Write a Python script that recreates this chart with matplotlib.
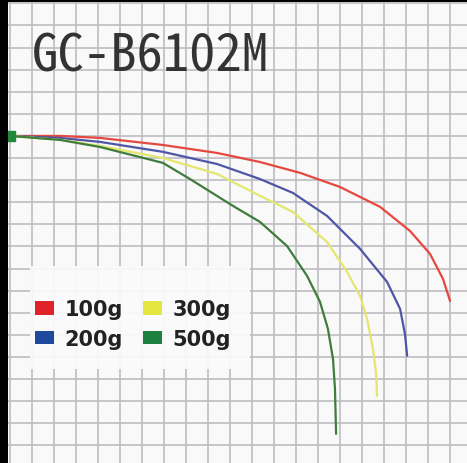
import matplotlib.pyplot as plt
from matplotlib.patches import Patch, Rectangle

# 竿のたわみ曲線 (グリッド1マス単位)
labels = ['100g', '200g', '300g', '500g']

x_100 = [0, 2.27, 4.09, 6.95, 9.41, 11.36, 13.18, 15.0, 16.82, 18.18, 19.09, 19.68, 20.0]
y_100 = [0, 0.0, -0.09, -0.41, -0.77, -1.18, -1.67, -2.31, -3.21, -4.30, -5.34, -6.47, -7.47]

x_200 = [0, 2.27, 4.09, 6.95, 9.41, 11.36, 12.86, 14.41, 15.91, 17.14, 17.73, 17.95, 18.05]
y_200 = [0, -0.09, -0.27, -0.72, -1.27, -1.95, -2.58, -3.62, -5.11, -6.61, -7.83, -8.96, -9.95]

x_300 = [0, 2.27, 4.09, 6.95, 9.41, 11.36, 12.86, 14.41, 15.32, 15.91, 16.23, 16.5, 16.64, 16.68]
y_300 = [0, -0.18, -0.45, -1.0, -1.72, -2.71, -3.44, -4.80, -6.15, -7.24, -8.28, -9.64, -10.77, -11.76]

x_500 = [0, 2.27, 4.09, 6.95, 8.18, 10.14, 11.36, 12.59, 13.5, 14.09, 14.45, 14.68, 14.77, 14.82]
y_500 = [0, -0.18, -0.50, -1.22, -1.95, -3.17, -3.89, -4.98, -6.33, -7.51, -8.73, -10.09, -11.45, -13.48]

line_colors = ['#e5483e', '#4f56a6', '#e4e66e', '#3f7d3c']
swatch_colors = ['#e0232b', '#1d4a9c', '#e6e640', '#1c8040']

fig = plt.figure(figsize=(4.67, 4.64), dpi=100, facecolor='black')
ax = fig.add_axes([8 / 467, 0, 459 / 467, 461 / 464])
ax.set_facecolor('#f9f9f9')

ax.set_xlim(-0.09, 20.77)
ax.set_ylim(-14.8, 6.06)
ax.set_xticks(range(0, 21))
ax.set_yticks(range(-14, 7))
ax.grid(True, color='#bcbcc2', linewidth=1.2)
ax.tick_params(length=0, labelbottom=False, labelleft=False)
for s in ax.spines.values():
    s.set_visible(False)
ax.set_axisbelow(True)

series = [(x_100, y_100), (x_200, y_200), (x_300, y_300), (x_500, y_500)]
for (xs, ys), c in zip(series, line_colors):
    ax.plot(xs, ys, color=c, linewidth=1.6, solid_capstyle='round', zorder=3)

# 竿尻
ax.plot([0], [0], marker='s', markersize=7, color='#1f8a3a', zorder=4)

ax.text(1.0, 2.94, 'GC-B6102M', fontsize=38, color='#333333',
        family=['Noto Sans Mono CJK JP', 'Liberation Sans'], va='baseline', zorder=5)

# 凡例の背景
ax.add_patch(Rectangle((0.048, 0.204), 0.479, 0.223, transform=ax.transAxes,
                       facecolor='#fbfbfb', edgecolor='none', alpha=0.92, zorder=4))

handles = [Patch(facecolor=c, edgecolor='none') for c in swatch_colors]
leg = ax.legend(handles, labels, ncol=2, loc='upper left',
                bbox_to_anchor=(0.059, 0.355), frameon=False, borderpad=0,
                borderaxespad=0, handlelength=0.9, handleheight=0.6,
                handletextpad=0.5, columnspacing=1.0, labelspacing=0.45,
                prop={'family': 'DejaVu Sans', 'weight': 'bold', 'size': 15})
leg.set_zorder(6)
for t in leg.get_texts():
    t.set_color('#222222')

fig.savefig('out.png', dpi=100, facecolor='black')
